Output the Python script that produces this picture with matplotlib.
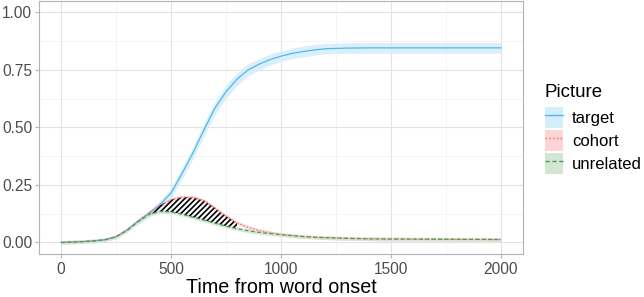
import numpy as np
import matplotlib.pyplot as plt
from matplotlib.patches import Patch
from matplotlib.lines import Line2D

plt.rcParams['font.family'] = ['Liberation Sans', 'DejaVu Sans']

# time points (ms) and looks proportions
time = [0, 50, 100, 150, 200, 250, 300, 350, 400, 450, 500, 550, 600, 650,
        700, 750, 800, 850, 900, 950, 1000, 1050, 1100, 1150, 1200, 1300,
        1400, 1500, 1750, 2000]
target = [0.0, 0.002, 0.004, 0.007, 0.012, 0.025, 0.055, 0.092, 0.125, 0.165,
          0.215, 0.30, 0.39, 0.49, 0.585, 0.655, 0.71, 0.75, 0.775, 0.795,
          0.81, 0.822, 0.83, 0.837, 0.842, 0.845, 0.846, 0.846, 0.846, 0.846]
cohort = [0.0, 0.002, 0.004, 0.007, 0.012, 0.025, 0.055, 0.095, 0.13, 0.163,
          0.186, 0.197, 0.196, 0.182, 0.150, 0.115, 0.085, 0.066, 0.052,
          0.043, 0.035, 0.030, 0.026, 0.023, 0.021, 0.018, 0.016, 0.015,
          0.014, 0.013]
unrelated = [0.0, 0.002, 0.004, 0.007, 0.012, 0.025, 0.052, 0.09, 0.122, 0.135,
             0.133, 0.123, 0.11, 0.097, 0.084, 0.071, 0.06, 0.051, 0.044,
             0.039, 0.034, 0.030, 0.026, 0.023, 0.021, 0.018, 0.016, 0.015,
             0.014, 0.013]
# ribbon half-widths
target_se = [0.0, 0.001, 0.001, 0.002, 0.003, 0.005, 0.008, 0.012, 0.015,
             0.018, 0.02, 0.024, 0.026, 0.028, 0.028, 0.028, 0.027, 0.026,
             0.025, 0.024, 0.023, 0.023, 0.023, 0.023, 0.023, 0.023, 0.023,
             0.023, 0.023, 0.023]
comp_se = 0.008

labels = ['target', 'cohort', 'unrelated']
line_cols = ['#4FB8EC', '#F87171', '#4E9A4E']
fill_cols = ['#D4EDFB', '#FDD5D5', '#D3E6D3']
styles = ['-', (0, (1.2, 1.5)), (0, (3, 2))]

t = np.array(time)
series = [np.array(target), np.array(cohort), np.array(unrelated)]
ses = [np.array(target_se), np.full(len(t), comp_se), np.full(len(t), comp_se)]

fig = plt.figure(figsize=(6.44, 2.97), dpi=100)
ax = fig.add_axes([0.0606, 0.1448, 0.7515, 0.852])

# theme_light-ish grid
ax.set_xlim(-100, 2100)
ax.set_ylim(-0.05, 1.05)
ax.set_xticks([0, 500, 1000, 1500, 2000])
ax.set_xticks([250, 750, 1250, 1750], minor=True)
ax.set_yticks([0, 0.25, 0.5, 0.75, 1.0])
ax.set_yticks([0.125, 0.375, 0.625, 0.875], minor=True)
ax.set_yticklabels(['0.00', '0.25', '0.50', '0.75', '1.00'])
ax.grid(which='major', color='#E3E3E3', lw=0.8)
ax.grid(which='minor', color='#F0F0F0', lw=0.5)
ax.set_axisbelow(True)
for s in ax.spines.values():
    s.set_color('#B3B3B3')
    s.set_linewidth(0.8)
ax.tick_params(which='both', length=0)
ax.tick_params(which='major', length=3, color='#B3B3B3', labelsize=11.2,
               labelcolor='#4D4D4D', pad=2)
ax.tick_params(axis='x', which='major', pad=3)

for y, se, fc in zip(series, ses, fill_cols):
    ax.fill_between(t, y - se, y + se, color=fc, alpha=0.85, lw=0)

# hatched difference between cohort and unrelated
mask = (t >= 400) & (t <= 800)
plt.rcParams['hatch.linewidth'] = 1.2
ax.fill_between(t[mask], series[2][mask], series[1][mask], facecolor='none',
                edgecolor='black', hatch='//////', lw=0)

for y, c, ls in zip(series, line_cols, styles):
    ax.plot(t, y, color=c, ls=ls, lw=0.9)

ax.set_xlabel('Time from word onset', fontsize=14.2, labelpad=0.5)

# legend (title drawn separately to match spacing)
fig.text(0.846, 0.690, 'Picture', fontsize=13.5, ha='left', va='center')
handles = []
for c, fc, ls in zip(line_cols, fill_cols, styles):
    handles.append((Patch(facecolor=fc, edgecolor='none'),
                    Line2D([], [], color=c, ls=ls, lw=1.0)))
fig.legend(handles, labels, loc='upper left',
           bbox_to_anchor=(0.847, 0.640), frameon=False, fontsize=12,
           handlelength=1.05, handleheight=1.55,
           handletextpad=0.55, labelspacing=0.12, borderaxespad=0,
           borderpad=0)

fig.savefig('out.png', dpi=100)
